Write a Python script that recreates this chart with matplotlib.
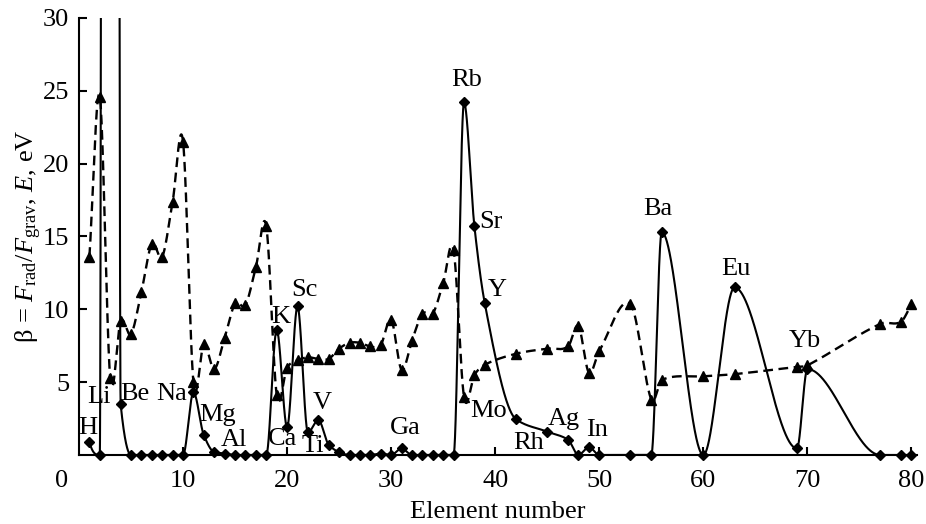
import numpy as np
import matplotlib
matplotlib.use('Agg')
import matplotlib.pyplot as plt

plt.rcParams['font.family'] = ['Liberation Serif', 'DejaVu Serif']
plt.rcParams['mathtext.fontset'] = 'custom'
plt.rcParams['mathtext.rm'] = 'Liberation Serif'
plt.rcParams['mathtext.it'] = 'Liberation Serif:italic'
plt.rcParams['lines.scale_dashes'] = False

# element numbers that have data points
z = list(range(1, 40)) + [42, 45, 47, 48, 49, 50, 53, 55, 56, 60, 63, 69, 70, 77, 79, 80]

# beta = F_rad / F_grav (Li is far off scale)
beta = [0.9, 0, 1000, 3.5, 0, 0, 0, 0, 0, 0,
        4.3, 1.35, 0.2, 0.1, 0, 0, 0, 0, 8.6, 1.9,
        10.2, 1.55, 2.4, 0.7, 0.2, 0, 0, 0, 0.1, 0,
        0.45, 0, 0, 0, 0, 0, 24.2, 15.7, 10.4,
        2.45, 1.6, 1.05, 0, 0.55, 0, 0, 0, 15.3, 0, 11.5, 0.45, 5.9, 0, 0, 0]

# ionization energy E, eV
energy = [13.6, 24.6, 5.3, 9.2, 8.3, 11.2, 14.5, 13.6, 17.4, 21.5,
          5.0, 7.6, 5.9, 8.05, 10.4, 10.3, 12.9, 15.7, 4.15, 6.0,
          6.5, 6.7, 6.6, 6.6, 7.3, 7.7, 7.7, 7.45, 7.55, 9.3,
          5.85, 7.85, 9.7, 9.7, 11.8, 14.05, 4.0, 5.5, 6.2,
          6.95, 7.3, 7.45, 8.85, 5.65, 7.15, 10.35, 3.8, 5.15, 5.4, 5.55, 6.05, 6.15, 9.0, 9.15, 10.35]

# element labels (name, x, y)
labels = [('H', 0.85, 1.85), ('Li', 1.95, 4.0), ('Be', 5.35, 4.2), ('Na', 8.9, 4.2),
          ('Mg', 13.3, 2.75), ('Al', 14.9, 1.0), ('K', 19.4, 9.5), ('Ca', 19.55, 1.1),
          ('Sc', 21.7, 11.3), ('Ti', 22.5, 0.6), ('V', 23.4, 3.55), ('Ga', 31.4, 1.85),
          ('Rb', 37.25, 25.75), ('Sr', 39.6, 16.0), ('Y', 40.2, 11.3), ('Mo', 39.4, 3.0),
          ('Rh', 43.25, 0.8), ('Ag', 46.55, 2.5), ('In', 49.8, 1.7), ('Ba', 55.6, 16.9),
          ('Eu', 63.1, 12.75), ('Yb', 69.8, 7.85)]


def hermite(x, y, m, n=400):
    t = np.linspace(0, 1, n)
    h00 = 2 * t**3 - 3 * t**2 + 1
    h10 = t**3 - 2 * t**2 + t
    h01 = -2 * t**3 + 3 * t**2
    h11 = t**3 - t**2
    xs, ys = [], []
    for k in range(len(x) - 1):
        h = x[k + 1] - x[k]
        xs.append(x[k] + t * h)
        ys.append(h00 * y[k] + h10 * h * m[k] + h01 * y[k + 1] + h11 * h * m[k + 1])
    return np.concatenate(xs), np.concatenate(ys)


def edge_slope(h0, h1, d0, d1):
    m = ((2 * h0 + h1) * d0 - h0 * d1) / (h0 + h1)
    if np.sign(m) != np.sign(d0):
        m = 0.0
    elif np.sign(d0) != np.sign(d1) and abs(m) > 3 * abs(d0):
        m = 3 * d0
    return m


def pchip(x, y):
    x = np.asarray(x, float)
    y = np.asarray(y, float)
    h = np.diff(x)
    d = np.diff(y) / h
    m = np.zeros_like(y)
    for k in range(1, len(x) - 1):
        if d[k - 1] * d[k] > 0:
            w1 = 2 * h[k] + h[k - 1]
            w2 = h[k] + 2 * h[k - 1]
            m[k] = (w1 + w2) / (w1 / d[k - 1] + w2 / d[k])
    m[0] = edge_slope(h[0], h[1], d[0], d[1])
    m[-1] = edge_slope(h[-1], h[-2], d[-1], d[-2])
    return hermite(x, y, m)


def catmull(x, y):
    x = np.asarray(x, float)
    y = np.asarray(y, float)
    m = np.zeros_like(y)
    m[1:-1] = (y[2:] - y[:-2]) / (x[2:] - x[:-2])
    m[0] = (y[1] - y[0]) / (x[1] - x[0])
    m[-1] = (y[-1] - y[-2]) / (x[-1] - x[-2])
    return hermite(x, y, m)


fig = plt.figure(figsize=(9.26, 5.24), dpi=100)
ax = fig.add_axes([0.0853, 0.1317, 0.9046, 0.834])

bx, by = pchip(z, beta)
ax.plot(bx, by, color='black', lw=1.5, zorder=2)
zb = [a for a, b in zip(z, beta) if b <= 30]
bb = [b for b in beta if b <= 30]
ax.plot(zb, bb, ls='none', marker='D', ms=4.8, color='black', clip_on=False, zorder=4)

ex, ey = catmull(z, energy)
ax.plot(ex, ey, color='black', lw=1.7, ls=(0, (7, 4)), zorder=2)
ax.plot(z, energy, ls='none', marker='^', ms=6.5, color='black', clip_on=False, zorder=4)

for name, lx, ly in labels:
    ax.text(lx, ly, name, fontsize=19, ha='center', va='center')

ax.set_xlim(0, 80.5)
ax.set_ylim(0, 30)
ax.set_xticks(range(10, 81, 10))
ax.set_yticks(range(5, 31, 5))
ax.tick_params(direction='in', length=6, width=1.5, labelsize=19)
ax.tick_params(axis='x', pad=11)
ax.tick_params(axis='y', pad=7)
ax.annotate('0', xy=(-1.63, 0), xycoords=('data', 'axes fraction'), xytext=(0, -11),
            textcoords='offset points', ha='center', va='top', fontsize=19,
            annotation_clip=False)
for s in ['top', 'right']:
    ax.spines[s].set_visible(False)
for s in ['left', 'bottom']:
    ax.spines[s].set_linewidth(1.5)

ax.set_xlabel('Element number', fontsize=19, labelpad=6)
ax.set_ylabel(r'β = $F_{\mathrm{rad}}/F_{\mathrm{grav}}$, $E$, eV', fontsize=19, labelpad=-1)

fig.savefig('out.png', dpi=100)
